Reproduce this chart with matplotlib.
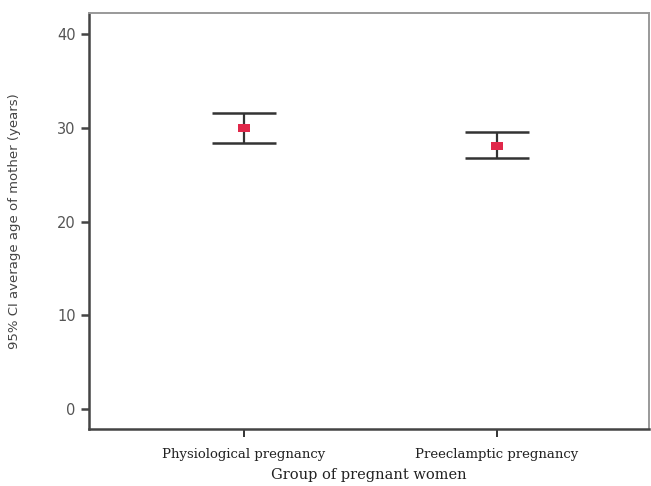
import matplotlib.pyplot as plt

# groups and 95% CI of mother's age
groups = ['Physiological pregnancy', 'Preeclamptic pregnancy']
means = [30.0, 28.05]
ci_low = [28.4, 26.8]
ci_high = [31.6, 29.5]

fig = plt.figure(figsize=(6.51, 4.86), dpi=100)
ax = fig.add_axes([0.1367, 0.1173, 0.8603, 0.8557])

x = [1, 2]
err = [[m - lo for m, lo in zip(means, ci_low)],
       [hi - m for m, hi in zip(means, ci_high)]]
ax.errorbar(x, means, yerr=err, fmt='none', ecolor='#333333',
            elinewidth=1.6, capsize=23, capthick=1.8)
rect = [(-1, -0.6), (1, -0.6), (1, 0.6), (-1, 0.6), (-1, -0.6)]
ax.plot(x, means, marker=rect, linestyle='none', color='#e0284a',
        markersize=9, markeredgewidth=0)

ax.set_xlim(0.39, 2.6)
ax.set_ylim(-2.1, 42.2)
ax.set_xticks(x)
ax.set_xticklabels(groups, family='DejaVu Serif', fontsize=9.5, color='#222222')
ax.set_yticks([0, 10, 20, 30, 40])
ax.tick_params(axis='y', labelsize=10.5, colors='#444444', length=6, width=1.8, labelcolor='#555555')
ax.tick_params(axis='x', length=6, width=1.4, color='#333333', pad=8)

for side in ['left', 'bottom']:
    ax.spines[side].set_linewidth(1.8)
    ax.spines[side].set_color('#444444')
for side in ['top', 'right']:
    ax.spines[side].set_linewidth(1.4)
    ax.spines[side].set_color('#999999')

ax.set_ylabel('95% CI average age of mother (years)', fontsize=9.5, color='#444444', labelpad=26)
ax.set_xlabel('Group of pregnant women', family='DejaVu Serif', fontsize=10.5, color='#222222', labelpad=5)

fig.savefig('out.png', dpi=100)
